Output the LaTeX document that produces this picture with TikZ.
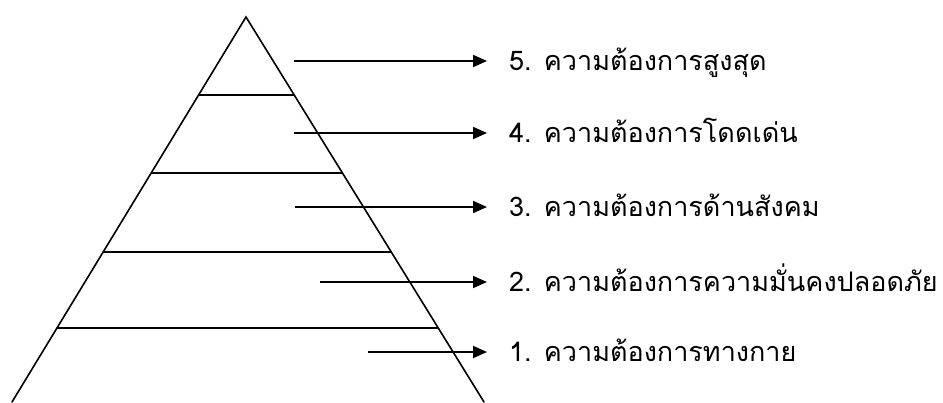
\documentclass[tikz,border=0pt]{standalone}
\usepackage{fontspec}
\newfontfamily\thaifont[Script=Thai]{Loma}
\usetikzlibrary{arrows.meta,calc}
\tikzset{
  edge/.style={line width=1.6pt, line cap=round},
  tier/.style={line width=1.4pt},
  pointer/.style={line width=1.7pt, -{Triangle[length=14pt,width=12pt]}, shorten >=22pt},
  label/.style={inner sep=0pt, anchor=base west, font=\thaifont\fontsize{27}{32}\selectfont}
}
\begin{document}
\begin{tikzpicture}[x=1pt,y=-1pt]
\useasboundingbox (0,0) rectangle (943,402);
\begin{scope}
\clip (0,0) rectangle (943,402);
\coordinate (apex) at (246,17);
\coordinate (bl) at (12,402);
\coordinate (br) at (484,402);
\draw[edge] (bl) -- (apex) -- (br);
\foreach \yy/\nm in {95/a,173/b,252/c,328/d}{
  \pgfmathsetmacro{\tt}{(\yy-17)/385}
  \coordinate (l\nm) at ($(apex)!\tt!(bl)$);
  \coordinate (r\nm) at ($(apex)!\tt!(br)$);
  \draw[tier] (l\nm) -- (r\nm);
}
\end{scope}
\node[label] (t5) at (509,70) {5. ความต้องการสูงสุด};
\node[label] (t4) at (509,142) {4. ความต้องการโดดเด่น};
\node[label] (t3) at (509,216) {3. ความต้องการด้านสังคม};
\node[label] (t2) at (509,291) {2. ความต้องการความมั่นคงปลอดภัย};
\node[label] (t1) at (509,361) {1. ความต้องการทางกาย};
\coordinate (s5) at (294,61);
\coordinate (s4) at (294,133);
\coordinate (s3) at (295,207);
\coordinate (s2) at (320,282);
\coordinate (s1) at (368,352);
\foreach \i in {1,...,5}{
  \draw[pointer] (s\i) -- (s\i -| t\i.west);
}
\end{tikzpicture}
\end{document}
